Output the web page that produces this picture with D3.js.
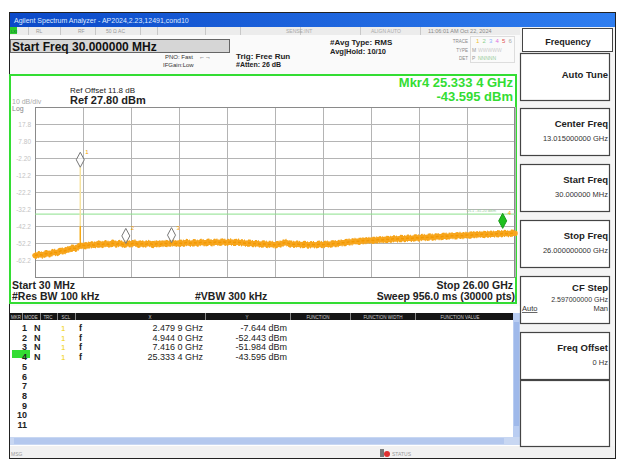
<!DOCTYPE html>
<html><head><meta charset="utf-8">
<script src="https://cdn.jsdelivr.net/npm/d3@7"></script>
<style>
html,body{margin:0;padding:0;background:#fff;}
svg{display:block;font-family:"Liberation Sans",Arial,sans-serif;}
</style></head>
<body>
<svg id="c" width="621" height="465"></svg>
<script>
// ---------------- data ----------------
const startGHz = 0.03, stopGHz = 26.0;
const refLevel = 27.8, dbPerDiv = 10, nDiv = 10;
const yTickLabels = ["17.8","7.80","-2.20","-12.2","-22.2","-32.2","-42.2","-52.2","-62.2"];
const displayLine = -35.2;
// trace levels (dBm), evenly spread across the sweep
const traceLevels = [
 -59.6,-59.0,-59.3,-58.4,-58.6,-57.6,-57.9,-56.8,-56.9,-56.0,
 -55.2,-55.4,-54.1,-53.6,-53.9,-53.1,-53.5,-52.7,-53.2,-52.6,
 -53.0,-52.3,-52.9,-52.4,-53.1,-52.5,-52.8,-52.2,-53.0,-52.6,
 -52.9,-52.4,-53.2,-52.5,-52.9,-52.3,-52.7,-52.1,-52.6,-52.2,
 -52.5,-51.9,-52.4,-52.0,-52.3,-51.8,-52.2,-51.7,-52.1,-51.6,
 -51.9,-51.5,-52.0,-51.6,-51.9,-51.7,-52.1,-52.3,-52.2,-52.6,
 -52.5,-52.9,-52.7,-53.1,-52.9,-53.3,-53.0,-52.4,-51.9,-52.7,
 -53.0,-52.8,-53.2,-53.0,-53.4,-53.1,-53.3,-52.9,-53.2,-52.8,
 -52.9,-52.5,-52.6,-52.1,-52.0,-51.6,-51.5,-51.1,-51.2,-50.8,
 -50.9,-50.5,-50.7,-50.2,-50.4,-50.0,-50.2,-49.7,-49.9,-49.5,
 -49.7,-49.3,-49.5,-49.1,-49.2,-48.9,-49.0,-48.6,-48.8,-48.4,
 -48.5,-48.1,-48.3,-47.9,-48.0,-47.7,-47.9,-47.5,-47.6,-47.2,
 -47.4,-47.0,-47.3,-46.9,-47.1,-46.7,-46.9,-46.5,-46.8,-46.4,
 -46.5];
const markerNums = [1,2,3,4];
const markerFreqGHz = [2.4799, 4.9440, 7.4160, 25.3334];
const markerLevel = [-7.644, -52.443, -51.984, -43.595];
const markerXText = ["2.479 9 GHz","4.944 0 GHz","7.416 0 GHz","25.333 4 GHz"];
const markerYText = ["-7.644 dBm","-52.443 dBm","-51.984 dBm","-43.595 dBm"];
const softkeys = [
 {title:"Auto Tune", value:""},
 {title:"Center Freq", value:"13.015000000 GHz"},
 {title:"Start Freq", value:"30.000000 MHz"},
 {title:"Stop Freq", value:"26.000000000 GHz"},
 {title:"CF Step", value:"2.597000000 GHz"},
 {title:"Freq Offset", value:"0 Hz"}
];
const tableCols = ["MKR","MODE","TRC","SCL","X","Y","FUNCTION","FUNCTION WIDTH","FUNCTION VALUE"];

// ---------------- drawing ----------------
const svg = d3.select("#c");
function txt(x,y,s,o={}){
  const t = svg.append("text").attr("x",x).attr("y",y).text(s)
    .attr("font-size",o.size||8).attr("fill",o.fill||"#111")
    .attr("font-weight",o.bold?"bold":"normal")
    .attr("text-anchor",o.anchor||"start");
  if(o.ls) t.attr("letter-spacing",o.ls);
  return t;
}
svg.append("rect").attr("width",621).attr("height",465).attr("fill","#fff");
// window
svg.append("rect").attr("x",9.5).attr("y",12.5).attr("width",606).attr("height",446)
  .attr("fill","#fafafa").attr("stroke","#222");
// title bar
const defs = svg.append("defs");
const g1 = defs.append("linearGradient").attr("id","tb").attr("x1",0).attr("x2",1);
g1.append("stop").attr("offset",0).attr("stop-color","#0b49c8");
g1.append("stop").attr("offset",1).attr("stop-color","#2f7ef0");
svg.append("rect").attr("x",10).attr("y",13).attr("width",605).attr("height",14).attr("fill","url(#tb)");
txt(14,23,"Agilent Spectrum Analyzer - AP2024,2.23,12491,cond10",{size:7,fill:"#dfe9ff"});
// status strip
svg.append("rect").attr("x",10).attr("y",27).attr("width",510).attr("height",8).attr("fill","#ececec");
svg.append("rect").attr("x",10).attr("y",27).attr("width",7).attr("height",7).attr("fill","#2ecc2e");
txt(11,33,"LXI",{size:4,fill:"#063"});
[28,60,95,140,157,205,240,300,360,420].forEach(x=>svg.append("line").attr("x1",x+.5).attr("x2",x+.5).attr("y1",27).attr("y2",35).attr("stroke","#c8c8c8"));
txt(36,33,"RL",{size:5,fill:"#999"});
txt(78,33,"RF",{size:5,fill:"#999"});
txt(106,33,"50 Ω  AC",{size:5,fill:"#999"});
txt(286,33,"SENSE:INT",{size:5,fill:"#aaa"});
txt(371,33,"ALIGN AUTO",{size:5,fill:"#aaa"});
txt(428,33,"11:06:01 AM Oct 22, 2024",{size:5.5,fill:"#888"});
// start freq box
svg.append("rect").attr("x",10.5).attr("y",39.5).attr("width",219).attr("height",13)
  .attr("fill","#d6d6d6").attr("stroke","#666");
txt(12,50.5,"Start Freq 30.000000 MHz",{size:12,bold:true});
txt(165,59,"PNO: Fast",{size:6,fill:"#333"});
txt(199,59,"\u2190\u2192",{size:6,fill:"#333"});
txt(163,67,"IFGain:Low",{size:6,fill:"#333"});
txt(236,59,"Trig: Free Run",{size:8,bold:true,fill:"#222"});
txt(236,67,"#Atten: 26 dB",{size:7,bold:true,fill:"#222"});
txt(330,45,"#Avg Type: RMS",{size:8,bold:true,fill:"#222"});
txt(330,54,"Avg|Hold: 10/10",{size:7.5,bold:true,fill:"#222"});
txt(468,43,"TRACE",{size:4.5,fill:"#888",anchor:"end"});
txt(468,52,"TYPE",{size:4.5,fill:"#888",anchor:"end"});
txt(468,60,"DET",{size:4.5,fill:"#888",anchor:"end"});
svg.append("rect").attr("x",470.5).attr("y",36.5).attr("width",44).attr("height",26).attr("fill","none").attr("stroke","#ddd");
const trColors=["#f0c030","#8fd08f","#90b0ff","#e070e0","#e05050","#aaa"];
trColors.forEach((c,i)=>txt(476+i*6.5,43,String(i+1),{size:6,fill:c}));
txt(472,52,"M",{size:5,fill:"#999"}); txt(478,52,"WWWWW",{size:5,fill:"#ccc"});
txt(472,60,"P",{size:5,fill:"#999"}); txt(478,60,"NNNNN",{size:5,fill:"#9c9"});

// graph frame (green)
svg.append("rect").attr("x",10).attr("y",75).attr("width",506).attr("height",228)
  .attr("fill","#fff").attr("stroke","#33dd33").attr("stroke-width",2);
txt(70,93,"Ref Offset 11.8 dB",{size:8,fill:"#222"});
txt(70,104,"Ref 27.80 dBm",{size:11,bold:true,fill:"#222"});
txt(12,104,"10 dB/div",{size:7,fill:"#aaa"});
txt(12,111,"Log",{size:7,fill:"#888"});

const x = d3.scaleLinear().domain([startGHz,stopGHz]).range([35,515]);
const y = d3.scaleLinear().domain([refLevel-dbPerDiv*nDiv, refLevel]).range([277,107]);
// grid
const gGrid = svg.append("g");
const xt = d3.range(nDiv+1).map(i=>startGHz+(stopGHz-startGHz)*i/nDiv);
const yt = d3.range(nDiv+1).map(i=>refLevel-dbPerDiv*i);
gGrid.selectAll("line.v").data(xt).join("line")
  .attr("x1",d=>Math.round(x(d))+.5).attr("x2",d=>Math.round(x(d))+.5)
  .attr("y1",y(yt[0])).attr("y2",y(yt[nDiv])).attr("stroke","#b4b4b4");
gGrid.selectAll("line.h").data(yt).join("line")
  .attr("y1",d=>Math.round(y(d))+.5).attr("y2",d=>Math.round(y(d))+.5)
  .attr("x1",x(startGHz)).attr("x2",x(stopGHz)).attr("stroke","#b4b4b4");
svg.append("rect").attr("x",35.5).attr("y",107.5).attr("width",479).attr("height",170)
  .attr("fill","none").attr("stroke","#8a8a8a");
svg.selectAll("text.yl").data(yTickLabels).join("text")
  .attr("x",31).attr("y",(d,i)=>y(yt[i+1])+3).attr("text-anchor","end")
  .attr("font-size",6.5).attr("fill","#c4c4c4").text(d=>d);
// display line
svg.append("line").attr("x1",35).attr("x2",515).attr("y1",y(displayLine)).attr("y2",y(displayLine))
  .attr("stroke","#8be08b").attr("stroke-width",1);
txt(496,y(displayLine)-2,"DL1 -35.20 dBm",{size:4,fill:"#9c9",anchor:"end"});

// trace
const step = (stopGHz-startGHz)/(traceLevels.length-1);
const traceData = traceLevels.map((v,i)=>[startGHz+i*step, v]);
const line = d3.line().x(d=>x(d[0])).y(d=>y(d[1]));
const gT = svg.append("g");
gT.append("path").attr("d",line(traceData)).attr("fill","none")
  .attr("stroke","#f7a61f").attr("stroke-width",5.5).attr("stroke-linejoin","round").attr("stroke-linecap","round");
// ragged noise edges
gT.append("path").attr("d",line(traceData)).attr("transform","translate(0,-2.8)").attr("fill","none")
  .attr("stroke","#f6a417").attr("stroke-width",1.6).attr("stroke-dasharray","1 2 2 1 1 3 3 1");
gT.append("path").attr("d",line(traceData)).attr("transform","translate(0,2.8)").attr("fill","none")
  .attr("stroke","#f6a417").attr("stroke-width",1.6).attr("stroke-dasharray","2 1 1 3 1 1 3 2");
gT.append("path").attr("d",line(traceData)).attr("fill","none")
  .attr("stroke","#f29800").attr("stroke-width",1.5).attr("stroke-dasharray","3 2");
// spike at marker 1
const baseAtM1 = d3.scaleLinear().domain(traceData.map(d=>d[0])).range(traceData.map(d=>d[1]))(markerFreqGHz[0]);
svg.append("line").attr("x1",x(markerFreqGHz[0])).attr("x2",x(markerFreqGHz[0]))
  .attr("y1",y(markerLevel[0])).attr("y2",y(baseAtM1)-6).attr("stroke","#f6e3a0").attr("stroke-width",1.5);
svg.append("line").attr("x1",x(markerFreqGHz[0])).attr("x2",x(markerFreqGHz[0]))
  .attr("y1",y(baseAtM1)-20).attr("y2",y(baseAtM1)).attr("stroke","#f5a000").attr("stroke-width",1.2);

// markers
markerNums.forEach((n,i)=>{
  const px = x(markerFreqGHz[i]), py = y(markerLevel[i]);
  const active = n===4;
  svg.append("path").attr("d",`M${px},${py} L${px+4},${py-7.5} L${px},${py-15} L${px-4},${py-7.5} Z`)
    .attr("fill",active?"#1ec01e":"#fff").attr("fill-opacity",active?1:0.6)
    .attr("stroke",active?"#1a9a1a":"#777").attr("stroke-width",1);
  txt(px+5,py-13,String(n),{size:6,fill:"#f5a000"});
});
// marker readout
txt(513,87,"Mkr4 25.333 4 GHz",{size:13,bold:true,fill:"#33dd33",anchor:"end"});
txt(513,101,"-43.595 dBm",{size:13,bold:true,fill:"#33dd33",anchor:"end"});

// bottom annotations
txt(12,289,"Start 30 MHz",{size:10.5,bold:true,fill:"#222"});
txt(513,289,"Stop 26.00 GHz",{size:10.5,bold:true,fill:"#222",anchor:"end"});
txt(12,300,"#Res BW 100 kHz",{size:10.5,bold:true,fill:"#222"});
txt(195,300,"#VBW 300 kHz",{size:10.5,bold:true,fill:"#222"});
txt(515,300,"Sweep  956.0 ms (30000 pts)",{size:10.5,bold:true,fill:"#222",anchor:"end"});

// marker table
svg.append("rect").attr("x",10).attr("y",306).attr("width",510).attr("height",140).attr("fill","#fff");
svg.append("rect").attr("x",10).attr("y",313).attr("width",503).attr("height",7).attr("fill","#151515");
const colEdges=[10,22,40,57,75,205,290,350,415,505];
const colLabelX=[16,31,48,66,150,247,318,383,460];
tableCols.forEach((c,i)=>txt(colLabelX[i],318.6,c,{size:4.5,fill:"#ccc",anchor:"middle"}));
colEdges.slice(1,-1).forEach(e=>svg.append("line").attr("x1",e+.5).attr("x2",e+.5).attr("y1",313).attr("y2",320).attr("stroke","#888"));
svg.append("rect").attr("x",513).attr("y",313).attr("width",7).attr("height",124).attr("fill","#b9cdf2");
svg.append("rect").attr("x",514).attr("y",322).attr("width",5).attr("height",104).attr("fill","#9fb9ea");
svg.append("rect").attr("x",10).attr("y",437).attr("width",510).attr("height",8).attr("fill","#c8d7f2");
svg.append("rect").attr("x",14).attr("y",438).attr("width",490).attr("height",6).attr("fill","#b4c8ee");
svg.append("rect").attr("x",12).attr("y",350).attr("width",18).attr("height",8).attr("fill","#33dd33");
d3.range(1,12).forEach((n,i)=>txt(27,331+i*9.7,String(n),{size:9,bold:true,fill:"#222",anchor:"end"}));
markerNums.forEach((n,i)=>{
  const ry = 331+i*9.7;
  txt(34,ry,"N",{size:9,bold:true,fill:"#222"});
  txt(61,ry,"1",{size:8,fill:"#f0d000"});
  txt(79,ry,"f",{size:9,bold:true,fill:"#222"});
  txt(203,ry,markerXText[i],{size:9,fill:"#222",anchor:"end"});
  txt(287,ry,markerYText[i],{size:9,fill:"#222",anchor:"end"});
});
// status bar
svg.append("rect").attr("x",10).attr("y",446).attr("width",605).attr("height",12).attr("fill","#f1f1f1");
txt(11,456,"MSG",{size:5,fill:"#999"});
svg.append("rect").attr("x",380).attr("y",449).attr("width",4).attr("height",8).attr("fill","#777");
svg.append("circle").attr("cx",387).attr("cy",454).attr("r",3).attr("fill","#e03030");
txt(392,456,"STATUS",{size:5,fill:"#999"});

// right panel
svg.append("rect").attr("x",520).attr("y",27).attr("width",95).attr("height",419).attr("fill","#f4f4f4");
svg.append("rect").attr("x",522.5).attr("y",28.5).attr("width",90).attr("height",23).attr("fill","#fff").attr("stroke","#444");
txt(568,45,"Frequency",{size:9,bold:true,fill:"#222",anchor:"middle"});
const keyTops=[53,108,164,220,276,332];
softkeys.forEach((k,i)=>{
  const t=keyTops[i];
  svg.append("rect").attr("x",520.5).attr("y",t+.5).attr("width",89).attr("height",47)
    .attr("fill","#fff").attr("stroke","#444").attr("stroke-width",1.2);
  const ty = k.value? (i===4? t+15 : t+19) : t+25;
  txt(608,ty,k.title,{size:9.5,bold:true,fill:"#222",anchor:"end"});
  if(k.value) txt(608,t+(i===4?26:33),k.value,{size:i===4?7:7.5,fill:"#333",anchor:"end"});
});
txt(522,311,"Auto",{size:7.5,fill:"#333"}).attr("text-decoration","underline");
txt(608,311,"Man",{size:7.5,fill:"#333",anchor:"end"});
svg.append("rect").attr("x",520.5).attr("y",380.5).attr("width",89).attr("height",66).attr("fill","#fff").attr("stroke","#444").attr("stroke-width",1.2);
</script>
</body></html>
